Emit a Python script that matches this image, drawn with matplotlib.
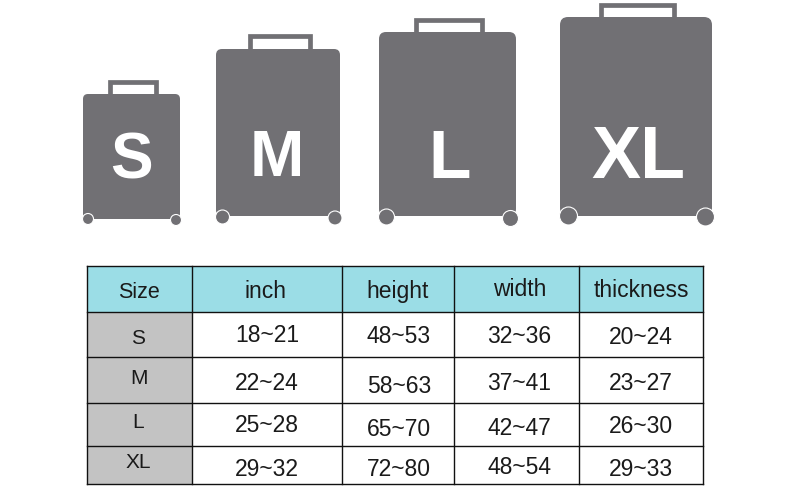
import matplotlib
matplotlib.use("Agg")
import matplotlib.pyplot as plt
from matplotlib.patches import FancyBboxPatch, Rectangle, Circle

plt.rcParams['font.family'] = ['Liberation Sans', 'DejaVu Sans']

# Content
size_labels = ["S", "M", "L", "XL"]
col_headers = ["Size", "inch", "height", "width", "thickness"]
inch = ["18~21", "22~24", "25~28", "29~32"]
height = ["48~53", "58~63", "65~70", "72~80"]
width = ["32~36", "37~41", "42~47", "48~54"]
thickness = ["20~24", "23~27", "26~30", "29~33"]

# Layout (pixel coordinates of the 800x495 canvas)
body_x = [(83, 180), (216, 340), (379, 516), (560, 712)]
body_y = [(94, 219), (49, 216), (32, 216), (17, 216)]
handle_x = [(108, 158), (248, 312), (414, 484), (599, 676)]
handle_top = [80, 34, 18, 3]
wheel_l = [(88, 219, 5.5), (222.5, 217, 7), (386.5, 217, 8), (568.5, 216, 9)]
wheel_r = [(176, 220, 5.5), (335, 218, 7), (510.5, 218.5, 8), (705.5, 217, 9)]
letter_pos = [(131, 155), (277, 152.5), (450, 152.5), (638, 151.5)]
letter_size = [46, 47, 50, 53]

grid_x = [86.5, 192, 342, 454, 579, 702.5]
grid_y = [265.5, 311.5, 357, 402.5, 445.5, 483.5]
header_xy = [(139, 290), (266, 289), (398, 289), (520, 287), (641, 288)]
size_y = [337, 377, 420, 461]
col_x = [267, 399, 519, 641]
col_y = [[333, 381, 423, 467], [334, 384, 427, 467],
         [334, 381, 426, 465], [335, 381, 424, 467]]

GRAY = "#717074"
HEAD = "#9bdde6"
SIDE = "#c3c3c3"
INK = "#1a1a1a"

fig = plt.figure(figsize=(8, 4.95), dpi=100, facecolor="white")
ax = fig.add_axes([0, 0, 1, 1])
ax.set_xlim(0, 800)
ax.set_ylim(495, 0)
ax.axis("off")

for i, lab in enumerate(size_labels):
    x0, x1 = body_x[i]
    y0, y1 = body_y[i]
    hx0, hx1 = handle_x[i]
    ax.add_patch(Rectangle((hx0 + 2, handle_top[i] + 2), hx1 - hx0 - 4.5, y0 - handle_top[i],
                           fc="white", ec=GRAY, lw=3.4, zorder=1))
    r = 5 + i
    ax.add_patch(FancyBboxPatch((x0 + r, y0 + r), x1 - x0 - 2 * r, y1 - y0 - 2 * r,
                                boxstyle=f"round,pad={r},rounding_size={r}",
                                fc=GRAY, ec="none", zorder=2))
    for cx, cy, cr in (wheel_l[i], wheel_r[i]):
        ax.add_patch(Circle((cx, cy), cr, fc=GRAY, ec="white", lw=0.8, zorder=3))
    ax.text(*letter_pos[i], lab, color="white", fontsize=letter_size[i], fontweight="bold",
            ha="center", va="center_baseline", zorder=4)

# Table fills
ax.add_patch(Rectangle((grid_x[0], grid_y[0]), grid_x[-1] - grid_x[0], grid_y[1] - grid_y[0],
                       fc=HEAD, ec="none", zorder=1))
ax.add_patch(Rectangle((grid_x[0], grid_y[1]), grid_x[1] - grid_x[0], grid_y[-1] - grid_y[1],
                       fc=SIDE, ec="none", zorder=1))
# Table rules
for x in grid_x:
    ax.plot([x, x], [grid_y[0], grid_y[-1]], color="#111111", lw=1.0, zorder=2,
            solid_capstyle="projecting")
for y in grid_y:
    ax.plot([grid_x[0], grid_x[-1]], [y, y], color="#111111", lw=1.0, zorder=2,
            solid_capstyle="projecting")

# Table text
for j, lab in enumerate(col_headers):
    ax.text(*header_xy[j], lab, color=INK, fontsize=15.5 if j == 0 else 16.5,
            ha="center", va="center_baseline", zorder=3)
for i, lab in enumerate(size_labels):
    ax.text(138.5, size_y[i], lab, color=INK, fontsize=15,
            ha="center", va="center_baseline", zorder=3)
for j, col in enumerate([inch, height, width, thickness]):
    for i, val in enumerate(col):
        ax.text(col_x[j], col_y[j][i], val, color=INK, fontsize=16.5,
                ha="center", va="center_baseline", zorder=3)

fig.savefig("out.png", dpi=100, facecolor="white")
